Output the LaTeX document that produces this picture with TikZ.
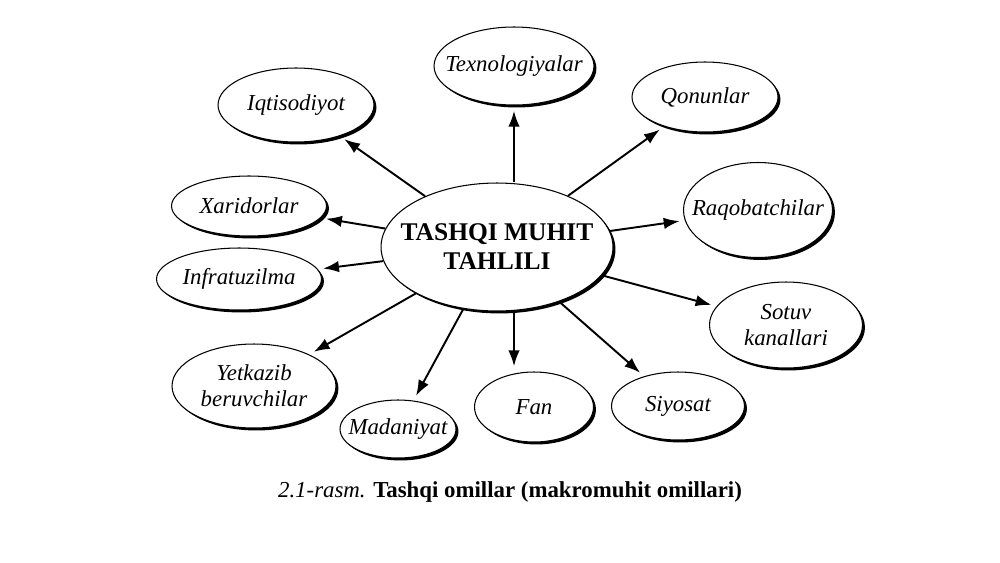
\documentclass[tikz,border=0pt]{standalone}
\usepackage{fontspec}
\setmainfont{Liberation Serif}[Ligatures=TeX]
\usetikzlibrary{shapes.geometric,shadows,arrows.meta}

\begin{document}
\begin{tikzpicture}[x=0.02cm, y=-0.02cm,
		node_style/.style={ellipse,draw=black,fill=white,line width=0.6pt,inner xsep=-10pt,inner ysep=0pt,
			align=center,font=\rmfamily\fontsize{13}{15}\selectfont\itshape,
			drop shadow={shadow xshift=1.4pt,shadow yshift=-1.4pt,fill=black,opacity=1}},
		edge_style/.style={draw=black,line width=1.1pt,-{Latex[length=9pt,width=6.5pt]},shorten >=3pt}]

		\useasboundingbox (0,0) rectangle (1000,562);

		\node[node_style, minimum width=4.64cm, minimum height=2.56cm, font=\rmfamily\fontsize{14.5}{16.5}\selectfont\bfseries] (tahlil) at (497,247) {TASHQI MUHIT\\TAHLILI};

		\node[node_style, minimum width=3.2cm, minimum height=1.56cm] (tex) at (514,66)  {Texnologiyalar};
		\node[node_style, minimum width=3.12cm, minimum height=1.48cm] (iqt) at (296,105)  {Iqtisodiyot};
		\node[node_style, minimum width=2.92cm, minimum height=1.4cm] (qon) at (705,97)  {Qonunlar};
		\node[node_style, minimum width=3.1cm, minimum height=1.2cm] (xar) at (249,206)  {Xaridorlar};
		\node[node_style, minimum width=2.98cm, minimum height=1.9cm] (raq) at (758,210)  {Raqobatchilar};
		\node[node_style, minimum width=3.3cm, minimum height=1.24cm] (inf) at (239,279)  {Infratuzilma};
		\node[node_style, minimum width=3.06cm, minimum height=1.72cm] (sot) at (786,325)  {Sotuv\\kanallari};
		\node[node_style, minimum width=3.28cm, minimum height=1.68cm] (yet) at (254,386)  {Yetkazib\\beruvchilar};
		\node[node_style, minimum width=2.32cm, minimum height=1.16cm] (mad) at (398,429)  {Madaniyat};
		\node[node_style, minimum width=2.38cm, minimum height=1.4cm] (fan) at (534,407)  {Fan};
		\node[node_style, minimum width=2.66cm, minimum height=1.36cm] (siy) at (678,406)  {Siyosat};

		\node[font=\rmfamily\fontsize{13}{15}\selectfont] (caption) at (510,492) {\textit{2.1-rasm.} \textbf{Tashqi omillar (makromuhit omillari)}};

		\draw[edge_style]  (tahlil.north -| tex) -- (tex);
		\draw[edge_style]  (tahlil) edge (iqt);
		\draw[edge_style]  (tahlil) edge (qon);
		\draw[edge_style]  (tahlil) edge (xar);
		\draw[edge_style]  (tahlil) edge (raq);
		\draw[edge_style]  (tahlil) edge (inf);
		\draw[edge_style]  (tahlil) edge (sot);
		\draw[edge_style]  (tahlil) edge (yet);
		\draw[edge_style]  (tahlil) edge (mad);
		\draw[edge_style]  (tahlil.south -| tex) -- (fan.north -| tex);
		\draw[edge_style]  (tahlil) edge (siy);
\end{tikzpicture}
\end{document}
